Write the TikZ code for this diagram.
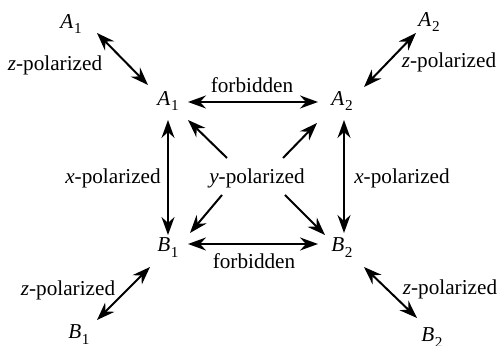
\documentclass[tikz,border=0pt]{standalone}
\usepackage{fontspec}
\setmainfont{Liberation Serif}
\usetikzlibrary{arrows.meta}
\newcommand{\st}[2]{\textit{#1}\kern0.3pt\raisebox{-0.28em}{\fontsize{7.6}{8}\selectfont #2}}
\tikzset{
  tip/.tip={Stealth[length=9pt,width=6.5pt,inset=3pt]},
  lbl/.style={inner sep=0pt, anchor=center, font=\rmfamily\fontsize{10.6}{12}\selectfont},
  arr/.style={line width=1pt, tip-tip},
  onearr/.style={line width=1pt, -tip}
}
\begin{document}
\begin{tikzpicture}[x=0.5pt,y=-0.5pt]
\useasboundingbox (0,0) rectangle (499,346);
% states
\node[lbl] (A1t) at (71,24) {\st{A}{1}};
\node[lbl] (A2t) at (429,22) {\st{A}{2}};
\node[lbl] (A1) at (168,101) {\st{A}{1}};
\node[lbl] (A2) at (342,101) {\st{A}{2}};
\node[lbl] (B1) at (168,248) {\st{B}{1}};
\node[lbl] (B2) at (342,248) {\st{B}{2}};
\node[lbl] (B1b) at (79,335) {\st{B}{1}};
\node[lbl] (B2b) at (432,338) {\st{B}{2}};
% labels
\node[lbl] (zTL) at (55,65) {\textit{z}-polarized};
\node[lbl] (zTR) at (449,62) {\textit{z}-polarized};
\node[lbl] (zBL) at (68,290) {\textit{z}-polarized};
\node[lbl] (zBR) at (450,289) {\textit{z}-polarized};
\node[lbl] (xL) at (113,178) {\textit{x}-polarized};
\node[lbl] (xR) at (402,178) {\textit{x}-polarized};
\node[lbl] (Y) at (257,178) {\textit{y}-polarized};
\node[lbl] (fT) at (252,85) {forbidden};
\node[lbl] (fB) at (254,261) {forbidden};
% z arrows
\draw[arr] ([shift={(26,9)}]A1t.center) -- ([shift={(-20,-16)}]A1.center);
\draw[arr] ([shift={(-13,11)}]A2t.center) -- ([shift={(22,-14)}]A2.center);
\draw[arr] ([shift={(18,-15)}]B1b.center) -- ([shift={(-18,19)}]B1.center);
\draw[arr] ([shift={(-15,-20)}]B2b.center) -- ([shift={(22,19)}]B2.center);
% forbidden
\draw[arr] ([shift={(20,1)}]A1.center) -- ([shift={(-24,1)}]A2.center);
\draw[arr] ([shift={(20,-4)}]B1.center) -- ([shift={(-24,-4)}]B2.center);
% x polarized
\draw[arr] ([shift={(0,19)}]A1.center) -- ([shift={(0,-13)}]B1.center);
\draw[arr] ([shift={(2,19)}]A2.center) -- ([shift={(2,-15)}]B2.center);
% y polarized
\draw[onearr] ([shift={(-30,-20)}]Y.center) -- ([shift={(20,19)}]A1.center);
\draw[onearr] ([shift={(26,-20)}]Y.center) -- ([shift={(-25,22)}]A2.center);
\draw[onearr] ([shift={(-35,17)}]Y.center) -- ([shift={(22,-15)}]B1.center);
\draw[onearr] ([shift={(28,17)}]Y.center) -- ([shift={(-17,-13)}]B2.center);
\end{tikzpicture}
\end{document}
